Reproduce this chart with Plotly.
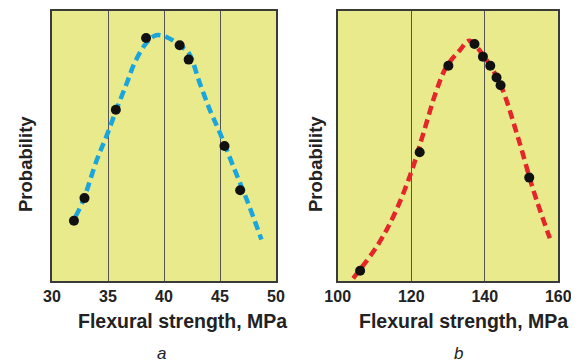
import plotly.graph_objects as go

# ---- data (panel a) ----
a_pts_x = [31.96, 32.9, 35.7, 38.4, 41.4, 42.2, 45.4, 46.8]
a_pts_y = [0.223, 0.307, 0.634, 0.900, 0.873, 0.820, 0.500, 0.336]
a_fit_x = [32.1, 32.8, 34.0, 34.9, 35.8, 36.7, 37.4, 38.4, 39.3, 40.4, 41.4, 42.2, 43.2, 44.1, 45.0, 46.2, 47.4, 48.7]
a_fit_y = [0.238, 0.300, 0.448, 0.540, 0.640, 0.735, 0.810, 0.880, 0.910, 0.900, 0.872, 0.845, 0.732, 0.633, 0.548, 0.423, 0.300, 0.154]

# ---- data (panel b) ----
b_pts_x = [106.1, 122.3, 130.1, 137.2, 139.5, 141.5, 143.2, 144.3, 152.1]
b_pts_y = [0.038, 0.477, 0.797, 0.878, 0.831, 0.797, 0.754, 0.725, 0.383]
b_fit_x = [104.2, 110.6, 115.1, 119.9, 123.3, 126.9, 129.6, 133.3, 135.8, 139.2, 144.1, 148.7, 153.2, 157.7]
b_fit_y = [0.010, 0.127, 0.238, 0.399, 0.547, 0.707, 0.794, 0.856, 0.890, 0.843, 0.732, 0.547, 0.337, 0.158]

a_ticks = [30, 35, 40, 45, 50]
b_ticks = [100, 120, 140, 160]
x_title = "Flexural strength, MPa"
y_title = "Probability"
panel_labels = ["a", "b"]

BG = "#e8ea8c"
FONT = "Liberation Sans, Arial, sans-serif"

# page body has an 8px default margin; size the figure to fit inside the window
OFF = 8
W, H = 579 - OFF, 363 - OFF


def px(x):
    return (x - OFF) / W


def py(y):
    return 1 - (y - OFF) / H


fig = go.Figure()
fig.add_trace(go.Scatter(x=a_fit_x, y=a_fit_y, mode="lines", xaxis="x", yaxis="y",
                         line=dict(color="#1aa5dc", width=4.5, dash="9px,5px", shape="spline", smoothing=1),
                         hoverinfo="skip", showlegend=False))
fig.add_trace(go.Scatter(x=a_pts_x, y=a_pts_y, mode="markers", xaxis="x", yaxis="y",
                         marker=dict(color="#111111", size=10), showlegend=False))
fig.add_trace(go.Scatter(x=b_fit_x, y=b_fit_y, mode="lines", xaxis="x2", yaxis="y2",
                         line=dict(color="#e4262a", width=4.5, dash="9px,5px", shape="spline", smoothing=1),
                         hoverinfo="skip", showlegend=False))
fig.add_trace(go.Scatter(x=b_pts_x, y=b_pts_y, mode="markers", xaxis="x2", yaxis="y2",
                         marker=dict(color="#111111", size=10), showlegend=False))

ydom = [py(281), py(11)]
axis_common = dict(showline=True, mirror=True, linecolor="#3a3a3a", linewidth=2,
                   ticks="", zeroline=False, fixedrange=True, automargin=False,
                   tickfont=dict(family=FONT, size=16, color="#222222"))

fig.update_layout(
    width=W, height=H,
    margin=dict(l=0, r=0, t=0, b=0, pad=0),
    paper_bgcolor="white", plot_bgcolor=BG,
    font=dict(family=FONT),
    xaxis=dict(domain=[px(52), px(276)], range=[30, 50], tickvals=a_ticks,
               ticktext=[f"<b>{t}</b>" for t in a_ticks],
               showgrid=True, gridcolor="#555555", gridwidth=1, anchor="y", **axis_common),
    yaxis=dict(domain=ydom, range=[0, 1], showticklabels=False, showgrid=False, anchor="x", **axis_common),
    xaxis2=dict(domain=[px(337.7), px(558.3)], range=[100, 160], tickvals=b_ticks,
                ticktext=[f"<b>{t}</b>" for t in b_ticks],
                showgrid=True, gridcolor="#555555", gridwidth=1, anchor="y2", **axis_common),
    yaxis2=dict(domain=ydom, range=[0, 1], showticklabels=False, showgrid=False, anchor="x2", **axis_common),
)

ann = []
for cx in [182, 464]:
    ann.append(dict(x=px(cx), y=py(321), xref="paper", yref="paper", text=f"<b>{x_title}</b>",
                    showarrow=False, xanchor="center", yanchor="middle",
                    font=dict(family=FONT, size=19.5, color="#222222")))
for cx in [25, 315]:
    ann.append(dict(x=px(cx), y=py(164), xref="paper", yref="paper", text=f"<b>{y_title}</b>",
                    showarrow=False, textangle=-90, xanchor="center", yanchor="middle",
                    font=dict(family=FONT, size=18.5, color="#222222")))
for cx, lbl in [(161, panel_labels[0]), (458, panel_labels[1])]:
    ann.append(dict(x=px(cx), y=py(353), xref="paper", yref="paper", text=f"<i>{lbl}</i>",
                    showarrow=False, xanchor="center", yanchor="middle",
                    font=dict(family=FONT, size=17, color="#222222")))
fig.update_layout(annotations=ann)

fig.write_html("out.html")
